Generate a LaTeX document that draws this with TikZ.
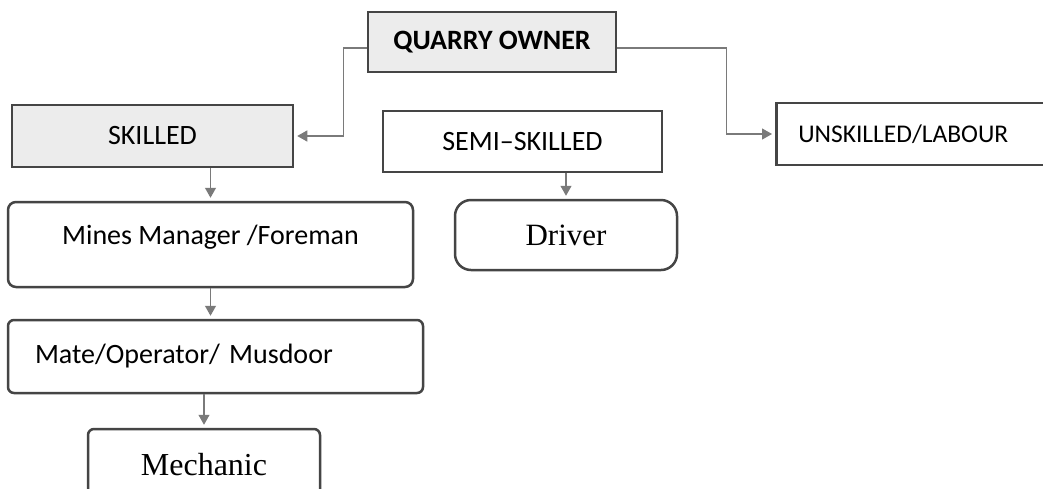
\documentclass[tikz,border=0pt]{standalone}
\usepackage{fontspec}
\setmainfont{Carlito}
\newfontfamily\serifface{Liberation Serif}
\usetikzlibrary{arrows.meta,positioning,calc}
\definecolor{qoEdge}{HTML}{454545}
\definecolor{qoLink}{HTML}{7A7A7A}
\definecolor{qoShade}{HTML}{ECECEC}
\tikzset{
  rolebox/.style={draw=qoEdge,line width=2.5pt,fill=white,inner sep=0pt,
                  font=\fontsize{28}{32}\selectfont},
  headbox/.style={rolebox,fill=qoShade},
  link/.style={draw=qoLink,line width=1.2pt,-{Triangle[width=11pt,length=10pt]},
               shorten >=3pt}
}

\begin{document}
\begin{tikzpicture}[x=1pt,y=-1pt]
  \clip (0,0) rectangle (1043,488);
  \fill[white] (0,0) rectangle (1043,488);
  \node[headbox,minimum width=248pt,minimum height=60pt,
        font=\fontsize{28}{32}\selectfont\bfseries] (owner) at (492,42) {QUARRY OWNER};
  \node[headbox,minimum width=281pt,minimum height=62pt] (skilled) at (152.5,136) {SKILLED};
  \node[rolebox,minimum width=279pt,minimum height=61pt] (semi) at (522.5,141.5) {SEMI--SKILLED};
  \node[rolebox,anchor=west,minimum height=62pt,text width=241pt,inner xsep=22pt,align=left,
        font=\fontsize{25.5}{30}\selectfont] (unskilled) at (775,134) {UNSKILLED/LABOUR};
  \node[rolebox,rounded corners=8pt,minimum width=405pt,minimum height=85pt,
        text height=19pt,text depth=19pt] (mines) at (210.5,244.5) {Mines Manager /Foreman};
  \node[rolebox,rounded corners=6pt,minimum height=73pt,text width=361pt,inner xsep=27pt,
        align=left] (mate) at (215.5,356.5) {Mate/Operator/ Musdoor};
  \node[rolebox,rounded corners=6pt,minimum width=232pt,minimum height=72pt,
        font=\serifface\fontsize{32}{36}\selectfont] (mechanic) at (204,465) {Mechanic};
  \node[rolebox,rounded corners=16pt,minimum width=222pt,minimum height=70pt,
        font=\serifface\fontsize{31}{36}\selectfont] (driver) at (566,235) {Driver};

  \draw[link] ([yshift=-6pt]owner.west) -- ++(-23,0) |- (skilled.east);
  \draw[link] ([yshift=-6pt]owner.east) -- ++(109,0) |- (unskilled.west);
  \draw[link] (mines.north |- skilled.south) -- (mines.north);
  \draw[link] (driver.north |- semi.south) -- (driver.north);
  \draw[link] (mines.south) -- (mines.south |- mate.north);
  \draw[link] (mechanic.north |- mate.south) -- (mechanic.north);
\end{tikzpicture}
\end{document}
